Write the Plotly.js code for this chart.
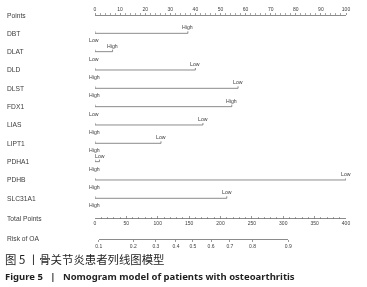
<!DOCTYPE html>
<html><head><meta charset="utf-8">
<script src="https://cdn.plot.ly/plotly-3.0.1.min.js"></script>
<style>html,body{margin:0;padding:0;background:#fff}#c{width:367px;height:287px;filter:grayscale(100%)}</style>
</head><body><div id="c"></div>
<script>
// Data
const variables = ["DBT","DLAT","DLD","DLST","FDX1","LIAS","LIPT1","PDHA1","PDHB","SLC31A1"];
const maxPoints = [37, 7, 40, 57, 54.5, 43, 26.3, 1.8, 100, 52.5];
const leftLabels = ["Low","Low","High","High","Low","High","High","High","High","High"];
const rightLabels = ["High","High","Low","Low","High","Low","Low","Low","Low","Low"];
const riskLabels = ["0.1","0.2","0.3","0.4","0.5","0.6","0.7","0.8","0.9"];
const riskTotalPoints = [6, 61, 97, 129, 156, 185, 215, 251, 308];
const totalMax = 400;

// Layout (pixel) settings
const W = 367, H = 287, L = 95, R = 21;
const rowY0 = 15, rowStep = 18.33;
const totalY = 218.5, riskY = 239;
const lineCol = '#6e6e6e', textCol = '#3c3c3c';
const font = 'Liberation Sans, Arial, sans-serif';
const px2paperX = px => (px - L) / (W - L - R);
const py2paper = py => 1 - py / H;

const traces = [];
const annotations = [];
const labelFont = {family: font, size: 6.7, color: textCol};
const endFont = {family: font, size: 5.2, color: textCol};

// row labels
const rowNames = ["Points"].concat(variables);
rowNames.forEach((n, i) => {
  annotations.push({text: n, xref: 'paper', yref: 'y', x: px2paperX(5), y: rowY0 + i * rowStep,
    xanchor: 'left', yanchor: 'middle', showarrow: false, font: labelFont});
});
annotations.push({text: "Total Points", xref: 'paper', yref: 'y', x: px2paperX(5), y: totalY,
  xanchor: 'left', yanchor: 'middle', showarrow: false, font: labelFont});
annotations.push({text: "Risk of OA", xref: 'paper', yref: 'y', x: px2paperX(5), y: riskY - 1,
  xanchor: 'left', yanchor: 'middle', showarrow: false, font: labelFont});

// variable scales
variables.forEach((v, i) => {
  const y = rowY0 + (i + 1) * rowStep;
  traces.push({x: [0, 0, maxPoints[i], maxPoints[i]], y: [y - 2, y, y, y - 2], xaxis: 'x', yaxis: 'y',
    mode: 'lines', line: {color: lineCol, width: 0.8}, hoverinfo: 'skip', showlegend: false});
  annotations.push({text: rightLabels[i], x: maxPoints[i], y: y - 5.9, xref: 'x', yref: 'y',
    xanchor: 'center', yanchor: 'middle', showarrow: false, font: endFont});
  annotations.push({text: leftLabels[i], x: 0, y: y + 7.0, xref: 'x', yref: 'y', xshift: -1,
    xanchor: 'center', yanchor: 'middle', showarrow: false, font: endFont});
});

// invisible traces so the extra axes get drawn
traces.push({x: [0, totalMax], y: [totalY, totalY], xaxis: 'x2', yaxis: 'y', mode: 'none', hoverinfo: 'skip', showlegend: false});
traces.push({x: [riskTotalPoints[0], riskTotalPoints[riskTotalPoints.length - 1]], y: [riskY, riskY], xaxis: 'x3', yaxis: 'y2', mode: 'none', hoverinfo: 'skip', showlegend: false});

// captions
annotations.push({text: "图 5 丨骨关节炎患者列线图模型", xref: 'paper', yref: 'y', x: px2paperX(3), y: 259,
  xanchor: 'left', yanchor: 'middle', showarrow: false, font: {family: 'Noto Sans CJK SC', size: 11.4, color: '#231f20'}});
annotations.push({text: "<b>Figure 5 &nbsp;&nbsp;| &nbsp;&nbsp;Nomogram model of patients with osteoarthritis</b>", xref: 'paper', yref: 'y', x: px2paperX(3), y: 276,
  xanchor: 'left', yanchor: 'middle', showarrow: false, font: {family: 'Noto Sans', size: 9.5, color: '#231f20'}});

const tickFont = {family: font, size: 5, color: textCol};
const layout = {
  width: W, height: H,
  margin: {l: L, r: R, t: 0, b: 0, pad: 0},
  paper_bgcolor: '#fff', plot_bgcolor: 'rgba(0,0,0,0)',
  showlegend: false,
  xaxis: {range: [0, 100], side: 'top', anchor: 'free', position: py2paper(rowY0),
    showline: true, linecolor: lineCol, linewidth: 0.8, showgrid: false, zeroline: false,
    ticks: 'outside', ticklen: 2.5, tickwidth: 0.7, tickcolor: lineCol, tickmode: 'linear', tick0: 0, dtick: 10,
    minor: {ticks: 'outside', dtick: 2, ticklen: 1.8, tickwidth: 0.6, tickcolor: lineCol, showgrid: false},
    tickfont: tickFont, fixedrange: true},
  xaxis2: {range: [0, totalMax], overlaying: 'x', side: 'bottom', anchor: 'free', position: py2paper(totalY),
    showline: true, linecolor: lineCol, linewidth: 0.8, showgrid: false, zeroline: false,
    ticks: 'inside', ticklen: 2.5, tickwidth: 0.7, tickcolor: lineCol, tickmode: 'linear', tick0: 0, dtick: 50,
    minor: {ticks: 'inside', dtick: 10, ticklen: 1.8, tickwidth: 0.6, tickcolor: lineCol, showgrid: false},
    tickfont: tickFont, fixedrange: true},
  xaxis3: {domain: [riskTotalPoints[0] / totalMax, riskTotalPoints[riskTotalPoints.length - 1] / totalMax],
    range: [riskTotalPoints[0], riskTotalPoints[riskTotalPoints.length - 1]],
    side: 'bottom', anchor: 'free', position: py2paper(riskY),
    showline: true, linecolor: lineCol, linewidth: 0.8, showgrid: false, zeroline: false,
    ticks: 'outside', ticklen: 2.5, tickwidth: 0.7, tickcolor: lineCol,
    tickmode: 'array', tickvals: riskTotalPoints, ticktext: riskLabels,
    tickfont: tickFont, fixedrange: true},
  yaxis: {range: [H, 0], domain: [0, 1], visible: false, fixedrange: true},
  yaxis2: {range: [H, 0], domain: [0, 1], visible: false, fixedrange: true, anchor: 'x3'},
  annotations: annotations
};
Plotly.newPlot('c', traces, layout, {displayModeBar: false, staticPlot: true});
</script></body></html>
